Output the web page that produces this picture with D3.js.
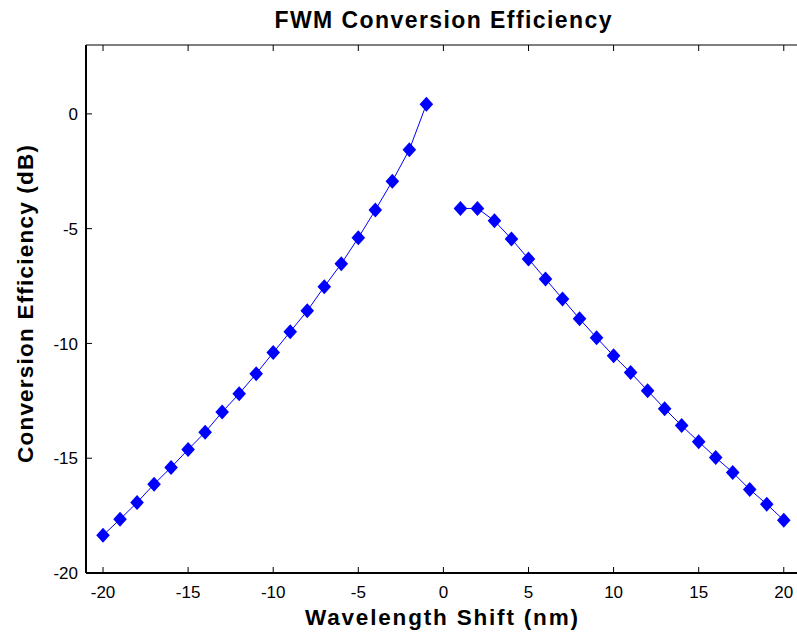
<!DOCTYPE html>
<html><head><meta charset="utf-8">
<script src="https://cdn.jsdelivr.net/npm/d3@7"></script>
<style>body{margin:0;background:#fff;} svg{display:block;}</style>
</head><body>
<svg id="c" width="797" height="635"></svg>
<script>
const xLeft = [-20,-19,-18,-17,-16,-15,-14,-13,-12,-11,-10,-9,-8,-7,-6,-5,-4,-3,-2,-1];
const yLeft = [-18.36,-17.66,-16.93,-16.13,-15.4,-14.62,-13.87,-12.99,-12.19,-11.32,-10.40,-9.49,-8.58,-7.53,-6.53,-5.40,-4.19,-2.93,-1.56,0.42];
const xRight = [1,2,3,4,5,6,7,8,9,10,11,12,13,14,15,16,17,18,19,20];
const yRight = [-4.12,-4.12,-4.66,-5.45,-6.32,-7.19,-8.06,-8.93,-9.75,-10.54,-11.27,-12.06,-12.84,-13.58,-14.28,-14.97,-15.62,-16.36,-17.0,-17.7];
const xTicks = [-20,-15,-10,-5,0,5,10,15,20];
const yTicks = [-20,-15,-10,-5,0];
const title = "FWM Conversion Efficiency";
const xLabel = "Wavelength Shift (nm)";
const yLabel = "Conversion Efficiency (dB)";

const svg = d3.select("#c");
const L = 86, T = 45, B = 573, R = 800.8;
const x = d3.scaleLinear().domain([-21,21]).range([L,R]);
const y = d3.scaleLinear().domain([-20,3]).range([B,T]);
const font = "'Liberation Sans', Arial, sans-serif";

const g = svg.append("g");
xTicks.forEach(v=>{
  g.append("line").attr("x1",x(v)).attr("x2",x(v)).attr("y1",B).attr("y2",B-6).attr("stroke","#000").attr("stroke-width",1);
  g.append("line").attr("x1",x(v)).attr("x2",x(v)).attr("y1",T).attr("y2",T+6).attr("stroke","#000").attr("stroke-width",1);
  g.append("text").attr("x",x(v)).attr("y",B+25).attr("text-anchor","middle").attr("font-family",font).attr("font-size",17).text(v);
});
yTicks.forEach(v=>{
  g.append("line").attr("x1",L).attr("x2",L+6).attr("y1",y(v)).attr("y2",y(v)).attr("stroke","#000").attr("stroke-width",1);
  g.append("text").attr("x",L-8).attr("y",y(v)).attr("dy","0.36em").attr("text-anchor","end").attr("font-family",font).attr("font-size",17).text(v);
});
g.append("line").attr("x1",L).attr("x2",R).attr("y1",B).attr("y2",B).attr("stroke","#000").attr("stroke-width",2);
g.append("line").attr("x1",L).attr("x2",R).attr("y1",T).attr("y2",T).attr("stroke","#000").attr("stroke-width",1.2);
g.append("line").attr("x1",L).attr("x2",L).attr("y1",T).attr("y2",B).attr("stroke","#000").attr("stroke-width",2);

const line = d3.line().x(d=>x(d[0])).y(d=>y(d[1]));
const diamond = (cx,cy)=>`M${cx},${cy-7.5}L${cx+6.8},${cy}L${cx},${cy+7.5}L${cx-6.8},${cy}Z`;
[[xLeft,yLeft],[xRight,yRight]].forEach(([xs,ys])=>{
  const pts = xs.map((v,i)=>[v,ys[i]]);
  svg.append("path").attr("d",line(pts)).attr("fill","none").attr("stroke","#0000ff").attr("stroke-width",1);
  svg.append("g").selectAll("path").data(pts).join("path")
    .attr("d",d=>diamond(x(d[0]),y(d[1]))).attr("fill","#0000ff");
});

svg.append("text").attr("x",443).attr("y",28).attr("text-anchor","middle").attr("font-family",font)
  .attr("font-weight","bold").attr("font-size",23).attr("textLength",337).text(title);
svg.append("text").attr("x",441.5).attr("y",625).attr("text-anchor","middle").attr("font-family",font)
  .attr("font-weight","bold").attr("font-size",22.5).attr("textLength",273).text(xLabel);
svg.append("text").attr("transform","translate(33,304) rotate(-90)").attr("text-anchor","middle").attr("font-family",font)
  .attr("font-weight","bold").attr("font-size",22.5).attr("textLength",318).text(yLabel);
</script>
</body></html>
